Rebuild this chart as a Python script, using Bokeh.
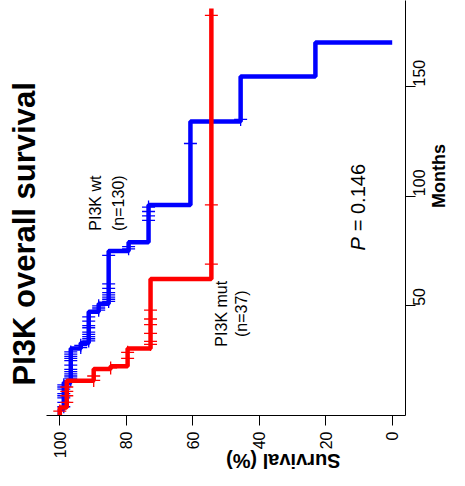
import math
from bokeh.plotting import figure
from bokeh.models import Range1d, FixedTicker, Title, Label
from bokeh.embed import file_html
from bokeh.resources import INLINE

# ---------------- data ----------------
# PI3K wt (n=130): months at which survival drops, and survival (%) after each drop
wt_drop_months = [3, 15, 30.6, 33, 47.3, 51, 75, 79, 96, 134, 154.5, 170]
wt_surv = [98.8, 96.7, 93.7, 91.3, 88.3, 85.3, 79.3, 73.3, 60.7, 45.6, 23.1, 0.0]
wt_last_month = 170
wt_censor_months = [4, 6, 8, 9, 10, 12, 13, 14,
                    16, 17, 18, 19, 20, 21, 23, 25, 26, 27, 28, 29,
                    31, 32, 34, 35, 36, 37, 38, 40, 41, 43, 45,
                    48, 49, 50, 52, 53, 54, 55, 56, 58, 60, 73,
                    76, 77, 89, 91, 93, 95, 124, 135]

# PI3K mut (n=37)
mut_drop_months = [3.6, 15.8, 21.2, 22.5, 30.6, 62.2]
mut_surv = [97.9, 89.8, 84.7, 79.6, 72.7, 54.4]
mut_last_month = 185.5
mut_censor_months = [2, 6, 9, 11, 13, 16, 18, 21.7, 26, 28.8,
                     32.4, 33.8, 37.4, 41.4, 44, 48, 69, 96, 182.4]

survival_ticks = [0, 20, 40, 60, 80, 100]
month_ticks = [50, 100, 150]

FONT = "Liberation Sans"


def km_path(times, surv, last):
    xs, ys = [100.0], [0.0]
    cur = 100.0
    for t, s in zip(times, surv):
        xs += [cur, s]
        ys += [t, t]
        cur = s
    if last > ys[-1]:
        xs.append(cur)
        ys.append(last)
    return xs, ys


def surv_at(times, surv, t):
    cur = 100.0
    for tt, s in zip(times, surv):
        if tt <= t:
            cur = s
    return cur


p = figure(width=465, height=486,
           x_range=Range1d(104, -4), y_range=Range1d(0, 189.2),
           output_backend="svg", toolbar_location=None,
           y_axis_location="right",
           min_border_left=46, min_border_top=0,
           min_border_right=60, min_border_bottom=66)
p.outline_line_color = None
p.grid.visible = False
p.background_fill_color = "white"
p.border_fill_color = "white"

# curves
wx, wy = km_path(wt_drop_months, wt_surv, wt_last_month)
p.line(wx, wy, line_color="#0000FF", line_width=4.5)
p.scatter([surv_at(wt_drop_months, wt_surv, t) for t in wt_censor_months], wt_censor_months,
          marker="cross", size=13, line_color="#0000FF", line_width=1.3)

mx, my = km_path(mut_drop_months, mut_surv, mut_last_month)
p.line(mx, my, line_color="#FF0000", line_width=4.5)
p.scatter([surv_at(mut_drop_months, mut_surv, t) for t in mut_censor_months], mut_censor_months,
          marker="cross", size=13, line_color="#FF0000", line_width=1.3)

# axes
xa = p.xaxis[0]
xa.ticker = FixedTicker(ticks=survival_ticks)
xa.minor_tick_line_color = None
xa.major_tick_out = 10
xa.major_tick_in = 0
xa.major_label_orientation = math.pi / 2
xa.major_label_standoff = 6
xa.major_label_text_font = FONT
xa.major_label_text_font_size = "16px"
xa.major_label_text_color = "black"
xa.axis_label = "Survival (%)"
xa.axis_label_orientation = math.pi
xa.axis_label_standoff = 0
xa.axis_label_text_baseline = "bottom"
xa.axis_label_text_font = FONT
xa.axis_label_text_font_size = "20px"
xa.axis_label_text_font_style = "bold"
xa.axis_label_text_color = "black"
xa.axis_line_color = "black"
xa.major_tick_line_color = "black"

ya = p.yaxis[0]
ya.ticker = FixedTicker(ticks=month_ticks)
ya.minor_tick_line_color = None
ya.major_tick_out = 10
ya.major_tick_in = 0
ya.major_label_orientation = math.pi / 2
ya.major_label_standoff = 4
ya.major_label_text_font = FONT
ya.major_label_text_font_size = "16px"
ya.major_label_text_color = "black"
ya.axis_label = "Months"
ya.axis_label_orientation = math.pi / 2
ya.axis_label_standoff = 4
ya.axis_label_text_baseline = "bottom"
ya.axis_label_text_font = FONT
ya.axis_label_text_font_size = "18px"
ya.axis_label_text_font_style = "bold"
ya.axis_label_text_color = "black"
ya.axis_line_color = "black"
ya.major_tick_line_color = "black"

# title on the left, reading bottom to top
p.add_layout(Title(text="PI3K overall survival", align="left", offset=30,
                   standoff=9, text_font=FONT, text_font_size="31px",
                   text_font_style="bold", text_color="black"), "left")

# annotations
def add_label(x, y, text, size="16px", style="normal", align="center"):
    p.add_layout(Label(x=x, y=y, text=text, angle=math.pi / 2,
                       text_align=align, text_baseline="middle",
                       text_font=FONT, text_font_size=size,
                       text_font_style=style, text_color="black"))

add_label(89.2, 96.8, "PI3K wt")
add_label(82.2, 96.8, "(n=130)")
add_label(51.5, 46.4, "PI3K mut")
add_label(45.2, 46.4, "(n=37)")
add_label(10.2, 75.2, "P", size="20px", style="italic", align="left")
add_label(10.2, 84.0, "= 0.146", size="20px", align="left")

open("out.html", "w").write(file_html(p, INLINE))
